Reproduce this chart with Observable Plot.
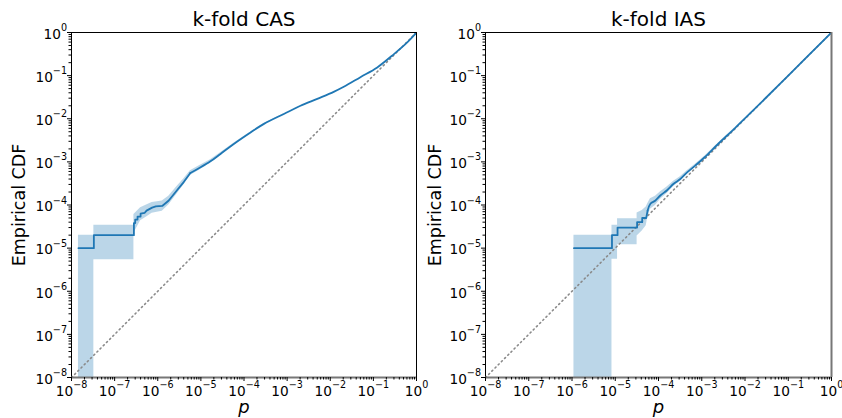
<!DOCTYPE html>
<html>
<head>
<meta charset="utf-8">
<script src="https://cdn.jsdelivr.net/npm/d3@7"></script>
<script src="https://cdn.jsdelivr.net/npm/@observablehq/plot@0.6"></script>
<style>
  html, body { margin: 0; padding: 0; background: white; }
  #wrap { position: relative; width: 842px; height: 418px; display: flex; }
  #wrap svg { overflow: visible; flex: none; }
</style>
</head>
<body>
<div id="wrap"></div>
<script>
// ---- tick values and labels (base 10, exponent as superscript) ----
const majorTicks = [1e-8, 1e-7, 1e-6, 1e-5, 1e-4, 1e-3, 1e-2, 1e-1, 1];
const tickBase = "10";
const tickExponents = ["−8", "−7", "−6", "−5", "−4", "−3", "−2", "−1", "0"];
const minorMultipliers = [2, 3, 4, 5, 6, 7, 8, 9];

// ---- panel titles / labels ----
const titles = ["k-fold CAS", "k-fold IAS"];
const yLabel = "Empirical CDF";
const xLabel = "p";

// ---- reference diagonal ----
const diagP = [1e-8, 1];

// ---- k-fold CAS: empirical CDF ----
const casP   = [1.45e-8, 3.3e-8, 3.3e-8, 2.8e-7, 2.8e-7, 3.0e-7, 3.0e-7, 3.4e-7, 3.4e-7, 4.0e-7, 4.0e-7, 5.0e-7, 5.5e-7, 7.4e-7, 9.0e-7, 1.27e-6, 1.8e-6, 2.8e-6, 4.0e-6, 5.7e-6, 9.0e-6, 1.67e-5, 2.85e-5, 5.8e-5, 1.42e-4, 2.9e-4, 8.4e-4, 2.04e-3, 5.0e-3, 1.2e-2, 2.06e-2, 5.0e-2, 0.123, 0.30, 0.61, 1];
const casCdf = [1e-5, 1e-5, 2e-5, 2e-5, 3.8e-5, 3.8e-5, 4.6e-5, 4.6e-5, 5.4e-5, 5.4e-5, 6.3e-5, 6.6e-5, 7.4e-5, 8.7e-5, 9.3e-5, 9.5e-5, 1.27e-4, 2.2e-4, 3.4e-4, 5.5e-4, 7.1e-4, 1.03e-3, 1.53e-3, 2.6e-3, 4.8e-3, 7.6e-3, 1.29e-2, 2.0e-2, 2.9e-2, 4.2e-2, 5.5e-2, 9.2e-2, 0.155, 0.316, 0.59, 1];
// confidence band
const casBandP  = [1.45e-8, 3.3e-8, 3.3e-8, 2.8e-7, 2.8e-7, 4.0e-7, 5.5e-7, 7.4e-7, 1.27e-6, 1.8e-6, 2.8e-6, 4.0e-6, 5.7e-6, 9.0e-6, 1.67e-5, 2.85e-5, 5.8e-5, 1.42e-4, 2.9e-4, 8.4e-4];
const casBandLo = [1e-9, 1e-9, 5.4e-6, 5.4e-6, 2.2e-5, 4.3e-5, 5.3e-5, 6.4e-5, 7.2e-5, 1.0e-4, 1.8e-4, 2.9e-4, 4.8e-4, 6.3e-4, 9.4e-4, 1.43e-3, 2.48e-3, 4.65e-3, 7.4e-3, 1.27e-2];
const casBandHi = [2e-5, 2e-5, 3.4e-5, 3.4e-5, 6.0e-5, 8.6e-5, 1.0e-4, 1.15e-4, 1.24e-4, 1.6e-4, 2.7e-4, 4.0e-4, 6.2e-4, 8.0e-4, 1.12e-3, 1.63e-3, 2.72e-3, 4.95e-3, 7.8e-3, 1.31e-2];

// ---- k-fold IAS: empirical CDF ----
const iasP   = [1.11e-6, 8.4e-6, 8.4e-6, 1.13e-5, 1.13e-5, 3.2e-5, 3.2e-5, 4.2e-5, 4.2e-5, 5.2e-5, 5.6e-5, 6.5e-5, 8.5e-5, 1.1e-4, 1.58e-4, 2.24e-4, 3.2e-4, 4.6e-4, 7.1e-4, 1.17e-3, 2.39e-3, 5.8e-3, 1.5e-2, 0.1, 1];
const iasCdf = [1e-5, 1e-5, 2e-5, 2e-5, 3e-5, 3e-5, 4e-5, 4e-5, 5e-5, 5e-5, 7.4e-5, 1.07e-4, 1.27e-4, 1.66e-4, 2.2e-4, 3.1e-4, 4.0e-4, 5.7e-4, 8.2e-4, 1.28e-3, 2.6e-3, 6.0e-3, 1.52e-2, 0.1, 1];
const iasBandP  = [1.11e-6, 8.4e-6, 8.4e-6, 1.13e-5, 1.13e-5, 3.2e-5, 3.2e-5, 4.2e-5, 5.2e-5, 5.6e-5, 6.5e-5, 8.5e-5, 1.1e-4, 1.58e-4, 2.24e-4, 3.2e-4, 4.6e-4, 7.1e-4, 1.17e-3, 2.39e-3, 5.8e-3];
const iasBandLo = [1e-9, 1e-9, 5.5e-6, 5.5e-6, 1.2e-5, 1.2e-5, 1.9e-5, 2.5e-5, 3.3e-5, 5.0e-5, 8.0e-5, 9.8e-5, 1.35e-4, 1.85e-4, 2.7e-4, 3.55e-4, 5.2e-4, 7.6e-4, 1.21e-3, 2.5e-3, 5.8e-3];
const iasBandHi = [2e-5, 2e-5, 3.4e-5, 3.4e-5, 4.8e-5, 4.8e-5, 6.5e-5, 7.5e-5, 9.0e-5, 1.05e-4, 1.4e-4, 1.6e-4, 2.0e-4, 2.6e-4, 3.55e-4, 4.5e-4, 6.25e-4, 8.8e-4, 1.35e-3, 2.7e-3, 6.2e-3];

// ---- derived ----
const minorTicks = [];
for (const m of majorTicks.slice(0, -1)) for (const k of minorMultipliers) minorTicks.push(m * k);
const BLUE = "#1f77b4";
const FONT = "DejaVu Sans, sans-serif";
const FS = 13.7, FS_SUP = 9.6;

const ctx = document.createElement("canvas").getContext("2d");
function textWidth(s, fs) { ctx.font = `${fs}px "DejaVu Sans"`; return ctx.measureText(s).width; }

// tick labels "10" with a raised, smaller exponent (like matplotlib mathtext)
function tickLabelMarks() {
  const marks = [];
  const wBase = textWidth(tickBase, FS);
  majorTicks.forEach((t, i) => {
    const e = tickExponents[i];
    const wExp = textWidth(e, FS_SUP);
    const W = wBase + wExp;
    marks.push(Plot.text([t], {x: d => d, frameAnchor: "bottom", text: () => tickBase, textAnchor: "start", lineAnchor: "middle",
      dx: -W / 2, dy: 18 - 0.32 * FS, fontSize: FS, fontFamily: FONT, fill: "black"}));
    marks.push(Plot.text([t], {x: d => d, frameAnchor: "bottom", text: () => e, textAnchor: "start", lineAnchor: "middle",
      dx: -W / 2 + wBase, dy: 10.3 - 0.32 * FS_SUP, fontSize: FS_SUP, fontFamily: FONT, fill: "black"}));
    marks.push(Plot.text([t], {y: d => d, frameAnchor: "left", text: () => e, textAnchor: "end", lineAnchor: "middle",
      dx: -4.5, dy: -1.4 - 0.32 * FS_SUP, fontSize: FS_SUP, fontFamily: FONT, fill: "black"}));
    marks.push(Plot.text([t], {y: d => d, frameAnchor: "left", text: () => tickBase, textAnchor: "end", lineAnchor: "middle",
      dx: -4.5 - wExp, dy: 6.3 - 0.32 * FS, fontSize: FS, fontFamily: FONT, fill: "black"}));
  });
  return marks;
}

function panel(cfg) {
  const line = cfg.P.map((p, i) => ({p, c: cfg.C[i]}));
  const split = line.findIndex(d => d.p >= cfg.smoothFrom);
  const head = line.slice(0, split + 1);
  const tail = line.slice(split);
  const band = cfg.BP.map((p, i) => ({p, lo: cfg.BLo[i], hi: cfg.BHi[i]}));
  const diag = diagP.map(p => ({p, c: p}));
  return Plot.plot({
    width: 421,
    height: 418,
    marginLeft: cfg.ml,
    marginRight: cfg.mr,
    marginTop: 32,
    marginBottom: 41,
    style: {fontFamily: FONT, fontSize: "13.5px", color: "black", background: "transparent", overflow: "visible"},
    x: {type: "log", domain: [1e-8, 1], axis: null},
    y: {type: "log", domain: [1e-8, 1], axis: null},
    marks: [
      Plot.areaY(band, {x: "p", y1: "lo", y2: "hi", fill: BLUE, fillOpacity: 0.3, clip: true}),
      Plot.line(diag, {x: "p", y: "c", stroke: "#8a8a8a", strokeWidth: 1.6, strokeDasharray: "1.2,3.3", strokeLinecap: "round"}),
      Plot.line(head, {x: "p", y: "c", stroke: BLUE, strokeWidth: 1.8, clip: true}),
      Plot.line(tail, {x: "p", y: "c", stroke: BLUE, strokeWidth: 1.8, curve: "catmull-rom", clip: true}),
      Plot.ruleY([1], {stroke: "black", strokeWidth: 1}),
      Plot.ruleX([1e-8], {stroke: "black", strokeWidth: 1}),
      Plot.ruleX([1], {stroke: cfg.rightGray ? "#777" : "black", strokeWidth: cfg.rightGray ? 2 : 1}),
      Plot.ruleY([1e-8], {stroke: "#777", strokeWidth: 2}),
      Plot.axisX({ticks: minorTicks, tickSize: 2.5, tickFormat: () => "", label: null, stroke: "black"}),
      Plot.axisX({ticks: majorTicks, tickSize: 4, tickFormat: () => "", label: null, stroke: "black"}),
      Plot.axisY({ticks: minorTicks, tickSize: 2.5, tickFormat: () => "", label: null, stroke: "black"}),
      Plot.axisY({ticks: majorTicks, tickSize: 4, tickFormat: () => "", label: null, stroke: "black"}),
      ...tickLabelMarks(),
      Plot.text([cfg.title], {frameAnchor: "top", lineAnchor: "middle", dy: -13, fontSize: 20, fill: "black", fontFamily: FONT}),
      Plot.text([yLabel], {frameAnchor: "left", rotate: -90, textAnchor: "middle", lineAnchor: "middle", dx: cfg.ydx, fontSize: 17.5, fill: "black", fontFamily: FONT}),
      Plot.text([xLabel], {frameAnchor: "bottom", lineAnchor: "middle", dy: 30, fontSize: 18, fontStyle: "italic", fill: "black", fontFamily: FONT})
    ]
  });
}

const wrap = document.getElementById("wrap");
wrap.appendChild(panel({title: titles[0], P: casP, C: casCdf, BP: casBandP, BLo: casBandLo, BHi: casBandHi, smoothFrom: 5.7e-6, ml: 71, mr: 5, ydx: -52, rightGray: false}));
wrap.appendChild(panel({title: titles[1], P: iasP, C: iasCdf, BP: iasBandP, BLo: iasBandLo, BHi: iasBandHi, smoothFrom: 5.6e-5, ml: 64, mr: 11, ydx: -50, rightGray: true}));
</script>
</body>
</html>
